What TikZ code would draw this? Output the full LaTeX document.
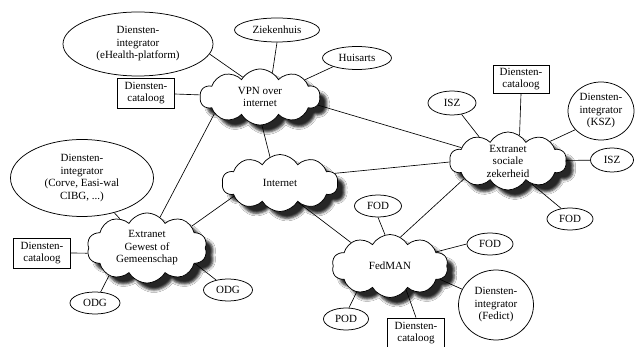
\documentclass[tikz,border=0pt]{standalone}
\usepackage{fontspec}
\setmainfont{Liberation Serif}
\usetikzlibrary{shapes.symbols,shapes.geometric,shadows.blur,backgrounds}

\begin{document}
\begin{tikzpicture}[x=1pt,y=-1pt,
  every node/.style={font=\fontsize{11}{12.5}\selectfont, align=center, inner sep=0pt},
  net/.style={cloud, cloud puffs=10, cloud puff arc=120, cloud ignores aspect,
    draw, line width=0.75pt, fill=white,
    blur shadow={shadow xshift=7pt, shadow yshift=-7pt, shadow blur radius=2.5pt, shadow opacity=85}},
  party/.style={ellipse, draw, line width=0.75pt, fill=white},
  catbox/.style={rectangle, draw, line width=0.9pt, fill=white, minimum width=57pt, minimum height=30pt},
  link/.style={line width=0.65pt}]

\useasboundingbox (0,0) rectangle (637,347);

% networks
\node[net, minimum width=120pt, minimum height=56pt] (vpn) at (260,97) {VPN over\\internet};
\node[net, minimum width=116pt, minimum height=57pt] (inet) at (280,183) {Internet};
\node[net, minimum width=117pt, minimum height=58pt] (esz) at (508,161) {Extranet\\sociale\\zekerheid};
\node[net, minimum width=116pt, minimum height=63pt] (fedman) at (390,266) {FedMAN};
\node[net, minimum width=120pt, minimum height=70pt] (gewest) at (147,248) {Extranet\\Gewest of\\Gemeenschap};

% parties around the VPN
\node[party, minimum width=150pt, minimum height=64pt] (ehealth) at (138,44) {Diensten-\\integrator\\(eHealth-platform)};
\node[party, minimum width=85pt, minimum height=24pt] (zieken) at (277,30) {Ziekenhuis};
\node[party, minimum width=69pt, minimum height=23pt] (huis) at (357,58) {Huisarts};
\node[catbox] (catvpn) at (146,93) {Diensten-\\cataloog};

% parties around the social security extranet
\node[catbox, minimum width=56pt, minimum height=28pt] (catesz) at (521,79) {Diensten-\\cataloog};
\node[party, minimum width=66pt, minimum height=58pt] (ksz) at (601,111) {Diensten-\\integrator\\(KSZ)};
\node[party, minimum width=48pt, minimum height=24pt] (iszA) at (452,103) {ISZ};
\node[party, minimum width=43pt, minimum height=24pt] (iszB) at (612,160) {ISZ};
\node[party, minimum width=46pt, minimum height=22pt] (fodA) at (570,219) {FOD};

% parties around FedMAN
\node[party, minimum width=47pt, minimum height=22pt] (fodB) at (378,206) {FOD};
\node[party, minimum width=46pt, minimum height=22pt] (fodC) at (490,244) {FOD};
\node[party, minimum width=75pt, minimum height=70pt] (fedict) at (496,305) {Diensten-\\integrator\\(Fedict)};
\node[party, minimum width=45pt, minimum height=22pt] (pod) at (346,319) {POD};
\node[catbox] (catfed) at (416,333) {Diensten-\\cataloog};

% parties around the regional extranet
\node[party, minimum width=143pt, minimum height=77pt] (corve) at (82,178) {Diensten-\\integrator\\(Corve, Easi-wal\\CIBG, ...)};
\node[catbox] (catgew) at (42,253) {Diensten-\\cataloog};
\node[party, minimum width=50pt, minimum height=22pt] (odgA) at (95,303) {ODG};
\node[party, minimum width=49pt, minimum height=22pt] (odgB) at (228,290) {ODG};

\begin{scope}[on background layer]
  \fill[white] (0,0) rectangle (637,347);
  \draw[link] (ehealth.-8) -- (vpn.131);
  \draw[link] (zieken.south) -- (vpn.63);
  \draw[link] (huis.200) -- (vpn.21);
  \draw[link] (catvpn) -- (vpn);
  \draw[link] (vpn.274) -- (inet.111);
  \draw[link] (vpn.200) -- (gewest.67);
  \draw[link] (vpn.-8) -- (esz.164);
  \draw[link] (inet.10) -- (esz.181);
  \draw[link] (inet.196) -- (gewest.26);
  \draw[link] (inet.313) -- (fedman.149);
  \draw[link] (esz.202) -- (fedman.70);
  \draw[link] (catesz.south) -- (esz.66);
  \draw[link] (ksz.216) -- (esz.25);
  \draw[link] (iszA.-50) -- (esz.140);
  \draw[link] (esz) -- (iszB);
  \draw[link] (fodA.130) -- (esz.316);
  \draw[link] (fodB.south) -- (fedman.99);
  \draw[link] (fodC.west) -- (fedman.17);
  \draw[link] (fedict.155) -- (fedman.345);
  \draw[link] (pod.75) -- (fedman.218);
  \draw[link] (catfed.north) -- (fedman.304);
  \draw[link] (catgew.east) -- (gewest.185);
  \draw[link] (odgA.63) -- (gewest.216);
  \draw[link] (odgB.140) -- (gewest.342);
  \draw[link] (corve) -- (gewest);
\end{scope}
\end{tikzpicture}
\end{document}
